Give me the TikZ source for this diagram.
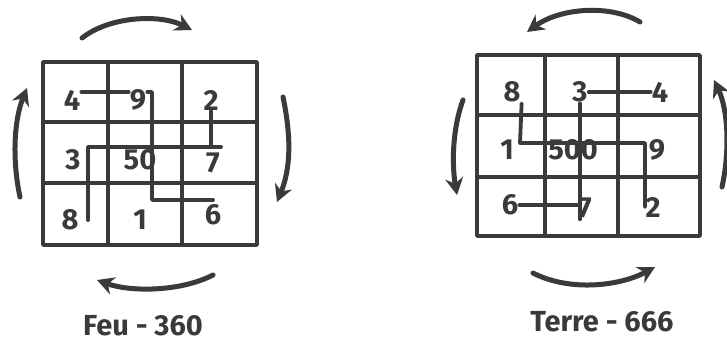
\documentclass[tikz,border=0pt]{standalone}
\usepackage{fontspec}
\setmainfont{Fira Sans}
\usepackage{tikz}
\usetikzlibrary{arrows.meta}
\definecolor{ink}{HTML}{3A3A3A}
\tikzset{
  every picture/.style={line join=round, line cap=round, >=Stealth, color=ink},
  cell/.style={line width=3.6pt},
  trail/.style={draw=ink, line width=3.8pt},
  turn/.style={line width=5pt, -{Stealth[length=17pt,width=18pt]}},
  digit/.style={font=\fontsize{29}{29}\selectfont\bfseries, inner sep=1pt, text=ink},
  title/.style={font=\fontsize{29}{29}\selectfont\bfseries, text=ink},
}

\begin{document}
\begin{tikzpicture}[x=1pt,y=-1pt]
\useasboundingbox[fill=white] (0,0) rectangle (727,345);
% Feu
\draw[cell] (43,62) rectangle (257,245);
\draw[cell] (108,62)--(108,245) (182,62)--(182,245) (43,122)--(257,122) (43,183)--(257,183);
\node[digit] (f4) at (72,100) {4};
\node[digit] (f9) at (138,100) {9};
\node[digit] (f2) at (211,100) {2};
\node[digit] (f3) at (73,160) {3};
\node[digit] (f50) at (140,160) {50};
\node[digit] (f7) at (213,163) {7};
\node[digit] (f8) at (70,220) {8};
\node[digit] (f1) at (140,220) {1};
\node[digit] (f6) at (213,215) {6};
\coordinate (fk1) at (152,200);
\coordinate (fk2) at (88,147);
\draw[trail] ([yshift=8pt]f4.east) -- ([yshift=8pt]f9.west);
\draw[trail] ([yshift=8pt]f9.east) -| (fk1) -- (fk1 -| f6);
\draw[trail] (f2.south) -- (f2.south |- fk2);
\draw[trail] (fk2 -| f7.east) -- (fk2) -- (fk2 |- f8);
\draw[turn] (82,38) .. controls (110,16) and (160,14) .. (192,30);
\draw[turn] (283,97) .. controls (292,140) and (290,170) .. (277,202);
\draw[turn] (213,275) .. controls (180,292) and (130,292) .. (97,280);
\draw[turn] (20,197) .. controls (12,160) and (14,120) .. (27,88);
\node[title] (feu) at (143,326) {Feu - 360};
% Terre
\draw[cell] (477,55) rectangle (700,236);
\draw[cell] (545,55)--(545,236) (618,55)--(618,236) (477,115)--(700,115) (477,177)--(700,177);
\node[digit] (t8) at (512,92) {8};
\node[digit] (t3) at (580,92) {3};
\node[digit] (t4) at (660,92) {4};
\node[digit] (t1) at (507,150) {1};
\node[digit] (t500) at (573,150) {500};
\node[digit] (t9) at (657,150) {9};
\node[digit] (t6) at (510,205) {6};
\node[digit] (t7) at (585,208) {7};
\node[digit] (t2) at (653,207) {2};
\coordinate (tk1) at (520,143);
\coordinate (tk2) at (645,143);
\draw[trail] (t3.east) -- (t3.east -| t4.west);
\draw[trail] (t3) -- (t3 |- t7.south);
\draw[trail] (t6.east) -- (t6.east -| t3);
\draw[trail] (t8.south east) -- (tk1) -- (tk2) -- (tk2 |- t2);
\draw[turn] (640,22) .. controls (610,4) and (560,8) .. (527,32);
\draw[turn] (463,100) .. controls (452,130) and (452,165) .. (457,195);
\draw[turn] (533,273) .. controls (570,292) and (620,286) .. (655,267);
\draw[turn] (722,187) .. controls (730,150) and (728,110) .. (714,80);
\node[title] (terre) at (602,322) {Terre - 666};
\end{tikzpicture}
\end{document}
